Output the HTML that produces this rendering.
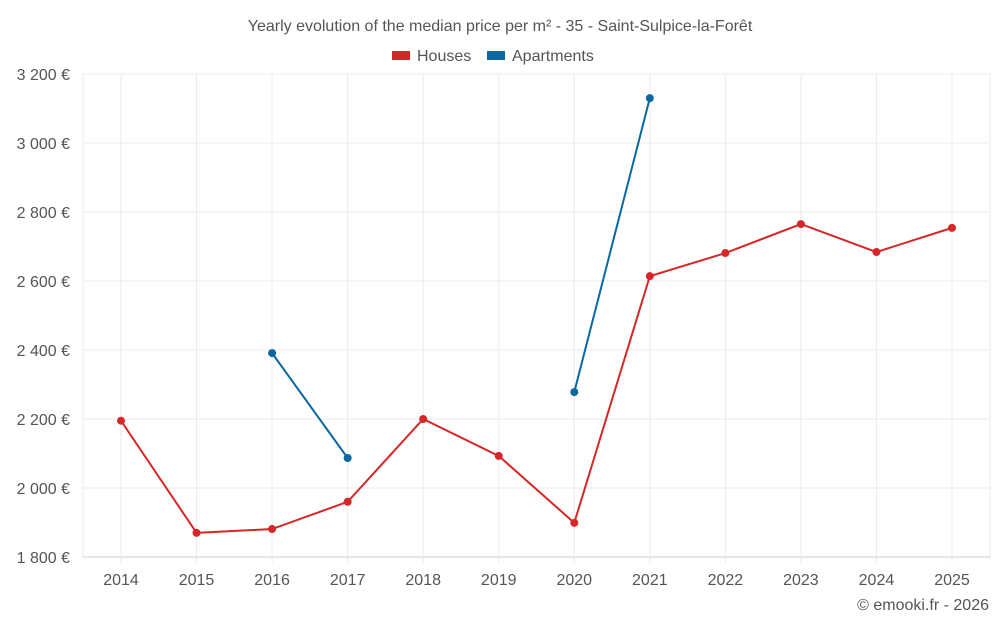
<!DOCTYPE html>
<html><head><meta charset="utf-8"><style>
html,body{margin:0;padding:0;background:#fff;}
svg{display:block;font-family:"Liberation Sans",sans-serif;}
</style></head><body>
<svg id="chart" width="1000" height="625" viewBox="0 0 1000 625">
<text x="500" y="31" text-anchor="middle" font-size="16" fill="#555">Yearly evolution of the median price per m² - 35 - Saint-Sulpice-la-Forêt</text>
<g>
<g><rect x="392" y="51" width="18" height="9" fill="#d62728"/><text x="417" y="61" font-size="16" fill="#555">Houses</text></g>
<g><rect x="487" y="51" width="18" height="9" fill="#0a67a0"/><text x="512" y="61" font-size="16" fill="#555">Apartments</text></g>
</g>
<g id="grid"></g><g id="axes"></g><g id="series"></g>
<text x="989" y="610" text-anchor="end" font-size="16" fill="#555">© emooki.fr - 2026</text>
</svg>
<script>
const years=[2014,2015,2016,2017,2018,2019,2020,2021,2022,2023,2024,2025];
const houses=[2195,1870,1881,1960,2200,2093,1899,2614,2681,2765,2684,2754];
const apartments=[null,null,2391,2087,null,null,2278,3130,null,null,null,null];
const yTicks=[1800,2000,2200,2400,2600,2800,3000,3200];
const yTickLabels=["1 800 €","2 000 €","2 200 €","2 400 €","2 600 €","2 800 €","3 000 €","3 200 €"];
const NS="http://www.w3.org/2000/svg";
const L=83,R=990,T=74,B=557,ymin=1800,ymax=3200;
const xs=i=>121+i*(952-121)/(years.length-1);
const ys=v=>B-(v-ymin)/(ymax-ymin)*(B-T);
function mk(t,a,p){const e=document.createElementNS(NS,t);for(const k in a)e.setAttribute(k,a[k]);p.appendChild(e);return e;}
const grid=document.getElementById('grid'),axes=document.getElementById('axes'),ser=document.getElementById('series');
[L,R].forEach(x=>{
 const l=mk('line',{x1:x,x2:x,y1:T,y2:B,stroke:'#ebebeb'},grid);
 
 
});
yTicks.forEach((v,i)=>{
 const l=mk('line',{x1:L,x2:R,y1:ys(v),y2:ys(v),stroke:i==0?'#ccc':'#ebebeb'},grid);
 
 
 const t=mk('text',{x:70,y:ys(v)+6,'text-anchor':'end','font-size':16,fill:'#555'},axes);
 t.textContent=yTickLabels[i];
 
 
});
years.forEach((y,i)=>{
 const l=mk('line',{x1:xs(i),x2:xs(i),y1:T,y2:B+6,stroke:'#ebebeb'},grid);
 
 
 const t=mk('text',{x:xs(i),y:585,'text-anchor':'middle','font-size':16,fill:'#555'},axes);
 t.textContent=y;
 
 
});
function draw(vals,color,name){
 let seg=[];const segs=[];
 vals.forEach((v,i)=>{if(v==null){if(seg.length)segs.push(seg);seg=[];}else seg.push([xs(i),ys(v)]);});
 if(seg.length)segs.push(seg);
 segs.forEach(s=>{
  const p=mk('polyline',{points:s.map(q=>q.join(',')).join(' '),fill:'none',stroke:color,'stroke-width':2},ser);
  
  
 });
 vals.forEach((v,i)=>{if(v==null)return;
  const c=mk('circle',{cx:xs(i),cy:ys(v),r:4,fill:color},ser);
  
  
 });
}
draw(houses,'#d62728','houses');
draw(apartments,'#0a67a0','apartments');
</script>
</body></html>
